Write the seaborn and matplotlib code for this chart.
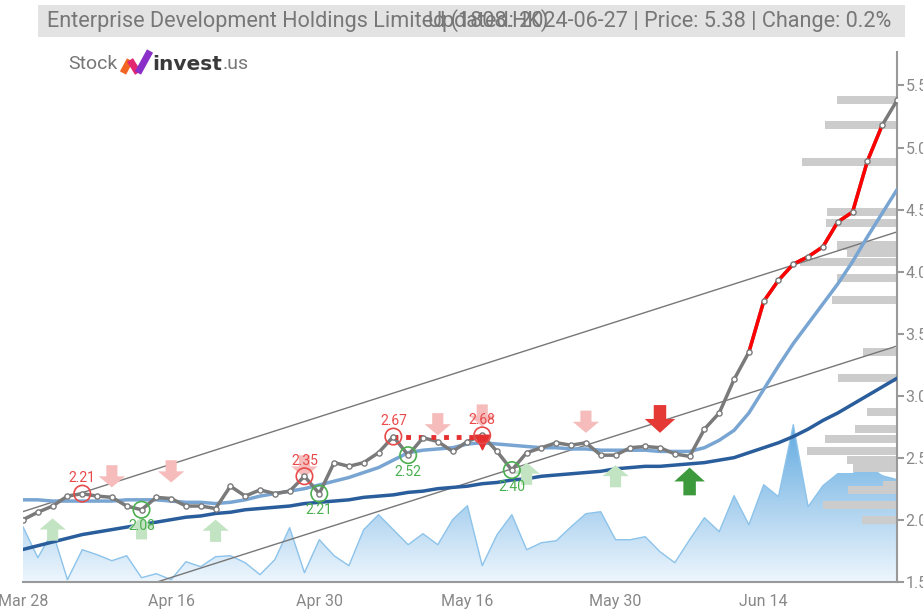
import numpy as np
import pandas as pd
import matplotlib
matplotlib.use("Agg")
import matplotlib.pyplot as plt
import seaborn as sns
from matplotlib.colors import LinearSegmentedColormap
from matplotlib.patches import Rectangle
from matplotlib.lines import Line2D

# --- data (1808.HK, trading days) ---
hk_holidays = ["2024-03-29", "2024-04-01", "2024-04-04", "2024-05-01", "2024-05-15", "2024-06-10"]
dates = pd.bdate_range("2024-03-28", "2024-06-27", freq="C", holidays=hk_holidays)

price = [2.00, 2.06, 2.11, 2.19, 2.21, 2.19, 2.18, 2.11, 2.08, 2.18,
         2.17, 2.11, 2.11, 2.09, 2.27, 2.19, 2.24, 2.21, 2.23, 2.35,
         2.21, 2.46, 2.43, 2.46, 2.54, 2.67, 2.52, 2.66, 2.63, 2.55,
         2.63, 2.68, 2.55, 2.40, 2.54, 2.58, 2.62, 2.60, 2.62, 2.52,
         2.52, 2.58, 2.59, 2.58, 2.53, 2.51, 2.73, 2.86, 3.13, 3.35,
         3.76, 3.93, 4.06, 4.12, 4.20, 4.40, 4.48, 4.89, 5.18, 5.38]

ma_fast = [2.16, 2.16, 2.15, 2.15, 2.15, 2.15, 2.15, 2.16, 2.16, 2.16,
           2.15, 2.14, 2.14, 2.13, 2.14, 2.16, 2.19, 2.21, 2.23, 2.25,
           2.28, 2.31, 2.34, 2.38, 2.42, 2.48, 2.54, 2.56, 2.57, 2.58,
           2.61, 2.62, 2.61, 2.60, 2.59, 2.58, 2.58, 2.57, 2.57, 2.56,
           2.56, 2.56, 2.56, 2.55, 2.55, 2.55, 2.58, 2.64, 2.72, 2.86,
           3.05, 3.24, 3.42, 3.58, 3.74, 3.90, 4.08, 4.28, 4.47, 4.66]

ma_slow = [1.76, 1.79, 1.82, 1.85, 1.88, 1.90, 1.92, 1.94, 1.96, 1.98,
           2.00, 2.02, 2.03, 2.05, 2.06, 2.08, 2.09, 2.10, 2.11, 2.13,
           2.14, 2.15, 2.16, 2.18, 2.19, 2.20, 2.22, 2.23, 2.25, 2.26,
           2.27, 2.29, 2.30, 2.32, 2.33, 2.35, 2.36, 2.37, 2.38, 2.39,
           2.41, 2.42, 2.43, 2.43, 2.44, 2.45, 2.46, 2.48, 2.50, 2.54,
           2.58, 2.62, 2.67, 2.73, 2.80, 2.86, 2.93, 3.00, 3.07, 3.14]

volume = [5.5, 2.4, 5.0, 0.2, 3.2, 2.7, 2.1, 2.6, 0.4, 0.8,
          0.2, 2.0, 1.5, 2.5, 2.6, 1.9, 0.7, 2.2, 5.4, 0.9,
          4.2, 2.6, 1.6, 5.2, 6.7, 5.2, 3.7, 4.8, 3.7, 6.2,
          7.6, 1.6, 4.7, 6.7, 3.2, 3.9, 4.1, 5.5, 6.8, 7.0,
          4.2, 4.2, 4.5, 3.0, 1.9, 4.2, 6.4, 5.0, 8.6, 5.7,
          9.7, 8.5, 15.7, 7.5, 9.6, 10.8, 10.8, 11.6, 10.6, 10.2]

# volume-at-price profile
profile_price = [5.38, 5.18, 4.88, 4.48, 4.39, 4.21, 4.15, 4.08, 3.95, 3.77,
                 3.35, 3.14, 2.87, 2.73, 2.65, 2.55, 2.48, 2.42, 2.28, 2.24, 2.12, 2.00]
profile_size = [60, 72, 95, 70, 71, 60, 50, 97, 60, 65,
                34, 59, 30, 42, 72, 90, 50, 44, 14, 49, 74, 35]

# pivots: (day index, price)
highs = [(4, 2.21), (19, 2.35), (25, 2.67), (31, 2.68)]
lows = [(8, 2.08), (20, 2.21), (26, 2.52), (33, 2.40)]
resistance = (25, 31, 2.67)

# trend channel (day index, price) end points
channel_upper = [(0, 2.065), (59, 4.32)]
channel_lower = [(0, 1.153), (59, 3.40)]

# signal arrows: (day index, tip price)
sell_weak = [(6, 2.26), (10, 2.30), (19, 2.34), (28, 2.68), (31, 2.75), (38, 2.70)]
buy_weak = [(2, 2.01), (8, 2.02), (13, 2.00), (34, 2.46), (40, 2.44)]
sell_strong = [(43, 2.70)]
buy_strong = [(45, 2.42)]

tick_days = [0, 10, 20, 30, 40, 50]
y_ticks = [1.5, 2.0, 2.5, 3.0, 3.5, 4.0, 4.5, 5.0, 5.5]

# --- style ---
sns.set_style("white")
plt.rcParams["font.family"] = ["Roboto", "DejaVu Sans"]

idx = np.arange(len(price))
W, H = 923, 610
fig = plt.figure(figsize=(W / 100, H / 100), dpi=100)
pos = [23 / W, 28.3 / H, 874 / W, 529.7 / H]
ax_v = fig.add_axes(pos, zorder=0)
ax_p = fig.add_axes(pos, zorder=1)
ax = fig.add_axes(pos, zorder=2)
ax.patch.set_alpha(0)
ax_p.patch.set_alpha(0)

# volume area with a vertical gradient
poly = ax_v.fill_between(idx, volume, 0, color="none", lw=0)
cmap = LinearSegmentedColormap.from_list("vol", ["#eef6fd", "#62aae0"])
grad = np.linspace(0, 1, 256).reshape(-1, 1)
im = ax_v.imshow(grad, extent=[0, 59, 0, max(volume)], aspect="auto",
                 cmap=cmap, origin="lower")
im.set_clip_path(poly.get_paths()[0], transform=ax_v.transData)
ax_v.plot(idx, volume, color="#8cc3ea", lw=1)
ax_v.set_xlim(0, 59)
ax_v.set_ylim(0, 52.97)
ax_v.axis("off")

# volume profile bars anchored on the right
ax_p.barh(profile_price, profile_size, height=0.065, color="#cccccc", lw=0)
ax_p.set_xlim(874, 0)
ax_p.set_ylim(1.5, 5.77)
ax_p.axis("off")

# trend channel
for line in (channel_upper, channel_lower):
    ax.plot([p[0] for p in line], [p[1] for p in line], color="#777777", lw=1, zorder=2)

# moving averages
sns.lineplot(x=idx, y=ma_slow, ax=ax, color="#2a5d9b", lw=2.5, zorder=3)
sns.lineplot(x=idx, y=ma_fast, ax=ax, color="#79a5d3", lw=2.5, zorder=3)

# price
sns.lineplot(x=idx, y=price, ax=ax, color="#7a7a7a", lw=2.5, zorder=4)
sns.lineplot(x=idx[49:59], y=price[49:59], ax=ax, color="#ff0000", lw=2.5, zorder=5)
ax.scatter(idx, price, s=14, facecolor="white", edgecolor="#7a7a7a", lw=1, zorder=6)

# resistance dotted line
ax.plot([resistance[0], resistance[1]], [resistance[2], resistance[2]], color="#e53030",
        lw=3.5, ls=(0, (1, 1.6)), zorder=5)
ax.scatter([resistance[1]], [2.63], marker="v", s=110, color="#e53030", zorder=7)

# arrows
def arrow(i, p, up, color, big=False):
    L, hl, hw, tw = (20, 10, 22, 9) if big else (16, 8, 19, 8)
    ax.annotate("", xy=(i, p), xytext=(0, -L if up else L), textcoords="offset points",
                arrowprops=dict(arrowstyle=f"simple,head_length={hl},head_width={hw},tail_width={tw}",
                                color=color, lw=0, shrinkA=0, shrinkB=0, mutation_scale=1),
                zorder=3)

for i, p in sell_weak:
    arrow(i, p, False, "#f6bcbc")
for i, p in buy_weak:
    arrow(i, p, True, "#c3e4c3")
for i, p in sell_strong:
    arrow(i, p, False, "#e53935", big=True)
for i, p in buy_strong:
    arrow(i, p, True, "#3c9a3c", big=True)

# pivot circles and labels
for i, p in highs:
    ax.scatter([i], [p], s=140, facecolor="none", edgecolor="#e84a4a", lw=1.2, zorder=8)
    ax.annotate(f"{p:.2f}", (i, p), xytext=(0, 11), textcoords="offset points",
                ha="center", va="center", fontsize=10, color="#e84a4a", zorder=8)
for i, p in lows:
    ax.scatter([i], [p], s=140, facecolor="none", edgecolor="#4caf50", lw=1.2, zorder=8)
    ax.annotate(f"{p:.2f}", (i, p), xytext=(0, -12), textcoords="offset points",
                ha="center", va="center", fontsize=10, color="#4caf50", zorder=8)

# axes styling
ax.set_xlim(0, 59)
ax.set_ylim(1.5, 5.77)
ax.set_xlabel("")
ax.set_ylabel("")
ax.yaxis.tick_right()
ax.set_yticks(y_ticks)
ax.set_yticklabels([f"{v:.1f}" for v in y_ticks])
ax.set_xticks(tick_days)
ax.set_xticklabels([dates[d].strftime("%b %d").replace(" 0", " ") for d in tick_days])
ax.tick_params(axis="both", colors="#999999", labelcolor="#888888", labelsize=11.5,
               length=5, width=1.5, direction="out")
ax.tick_params(axis="y", pad=1)
ax.tick_params(axis="x", pad=4)
for side in ("top", "left"):
    ax.spines[side].set_visible(False)
for side in ("right", "bottom"):
    ax.spines[side].set_color("#999999")
    ax.spines[side].set_linewidth(1.5)

# title bar
fig.add_artist(Rectangle((38 / W, 1 - 37 / H), 867 / W, 32 / H, transform=fig.transFigure,
                         color="#e3e3e3", lw=0, zorder=0))
fig.text(47 / W, 1 - 21 / H, "Enterprise Development Holdings Limited (1808.HK)",
         fontsize=15.6, color="#777777", va="center", ha="left")
fig.text(891 / W, 1 - 21 / H, "Updated: 2024-06-27 | Price: 5.38 | Change: 0.2%",
         fontsize=15.6, color="#777777", va="center", ha="right")

# logo
fig.text(68 / W, 1 - 64 / H, "Stock", fontsize=14, color="#777777", va="center")
for (x0, y0, x1, y1, c) in [(123, 73, 130, 60, "#f26522"), (130, 60, 138, 73, "#e2266f"),
                            (138, 73, 150, 51, "#8b2fc9")]:
    fig.add_artist(Line2D([x0 / W, x1 / W], [1 - y0 / H, 1 - y1 / H], transform=fig.transFigure,
                          color=c, lw=5, solid_capstyle="butt"))
fig.text(152 / W, 1 - 64 / H, "invest", fontsize=14.5, color="#3a3a3a", va="center",
         fontweight="bold", family=["DejaVu Sans"])
fig.text(223 / W, 1 - 64 / H, ".us", fontsize=14, color="#777777", va="center")

fig.savefig("out.png", dpi=100)
